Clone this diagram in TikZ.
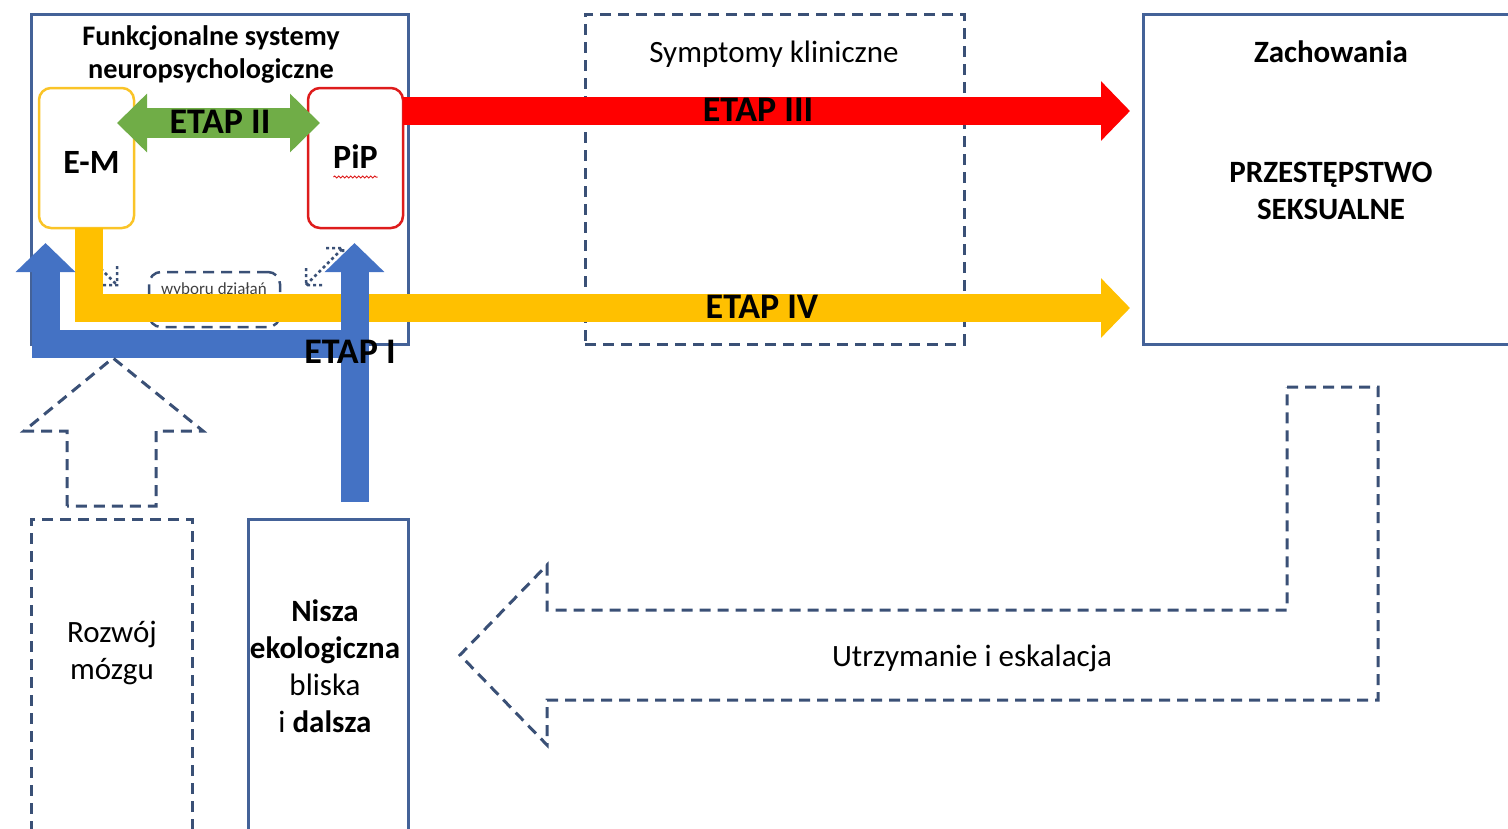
\documentclass[tikz,border=0pt]{standalone}
\usepackage{fontspec}
\setmainfont{Carlito}
\usetikzlibrary{positioning, arrows.meta, decorations.pathmorphing}

\definecolor{frameblue}{RGB}{68,98,152}
\definecolor{dashblue}{RGB}{58,80,118}
\definecolor{emgold}{RGB}{250,196,40}
\definecolor{pipred}{RGB}{222,28,28}
\definecolor{etapgreen}{RGB}{112,173,71}
\definecolor{etapred}{RGB}{255,0,0}
\definecolor{etapyellow}{RGB}{255,192,0}
\definecolor{etapblue}{RGB}{68,114,196}

\tikzset{
  >={Triangle[width=58pt, length=29pt]}, % heads of the block arrows
  solidframe/.style={draw=frameblue, line width=3pt, inner sep=0pt, outer sep=0pt}, % solid boxes
  dashframe/.style={draw=dashblue, line width=3pt, dash pattern=on 11pt off 7pt, inner sep=0pt, outer sep=0pt}, % dashed boxes and outline arrows
  dotarrow/.style={draw=dashblue, line width=2.5pt, dash pattern=on 3pt off 3pt}, % small dotted icons
  module/.style={rounded corners=12pt, line width=2.5pt, minimum width=95pt, minimum height=140pt, inner sep=0pt, outer sep=0pt}, % E-M and PiP
  moduletext/.style={inner sep=0pt, font=\fontsize{34}{40}\selectfont\bfseries},
  plaintext/.style={align=center, inner sep=0pt, font=\fontsize{31}{37}\selectfont},
  boldtext/.style={align=center, inner sep=0pt, font=\fontsize{31}{37}\selectfont\bfseries},
  etap/.style={inner sep=0pt, font=\fontsize{36}{40}\selectfont\bfseries}, % stage names
  shaft/.style={line width=28pt}, % body of a block arrow
}

\begin{document}
\begin{tikzpicture}[x=1pt, y=-1pt]
  \useasboundingbox (0,0) rectangle (1508,828);

  % frames
  \node[solidframe, minimum width=377pt, minimum height=330pt, anchor=north west] (fsn) at (31,14) {};
  \node[dashframe, minimum width=379pt, minimum height=330pt, right=177pt of fsn] (sympt) {};
  \node[solidframe, minimum width=400pt, minimum height=330pt, right=179pt of sympt] (zach) {};
  \node[dashframe, minimum width=161pt, minimum height=330pt, anchor=north west] (rozw) at (31,519) {};
  \node[solidframe, minimum width=160pt, minimum height=330pt, right=56pt of rozw] (nisza) {};

  \node[boldtext, font=\fontsize{28.3}{33}\selectfont\bfseries] (fsntitle) at (211,54) {Funkcjonalne systemy\\neuropsychologiczne};
  \node[plaintext] (symptext) at (774,54) {Symptomy kliniczne};
  \node[boldtext] (zachtext) at (1331,52) {Zachowania};
  \node[boldtext] (przest) at (1331,191) {PRZESTĘPSTWO\\SEKSUALNE};
  \node[plaintext] (rozwtext) at (112,653) {Rozwój\\mózgu};
  \node[plaintext] (niszatext) at (325,666) {\textbf{Nisza}\\\textbf{ekologiczna}\\bliska\\i \textbf{dalsza}};

  % inner part of the left frame
  \node[dashframe, line width=2.5pt, rounded corners=12pt, minimum width=131pt, minimum height=55pt, anchor=north west] (wybor) at (149,272) {};
  \node[inner sep=0pt, text=black!75, font=\fontsize{17}{20}\selectfont] (wybortext) at (214,290) {wyboru działań};
  \draw[dotarrow] (88,256) -- (117,285) (117,266) -- (117,285) -- (100,285);
  \draw[dotarrow] (306,285) -- (343,248) (306,268) -- (306,285) -- (323,285) (326,248) -- (343,248) -- (343,265);

  \node[module, draw=emgold, below right=74pt and 8pt of fsn.north west] (em) {};
  \node[module, draw=pipred, right=174pt of em] (pip) {};
  \node[moduletext] (emtext) at ([xshift=5pt, yshift=-4pt]em.center) {E-M};
  \node[moduletext] (piptext) at ([yshift=1pt]pip.center) {PiP};
  \draw[pipred, line width=1pt, decorate, decoration={snake, amplitude=1pt, segment length=4pt}]
    ([xshift=-22pt, yshift=-19pt]pip.center) -- ([xshift=22pt, yshift=-19pt]pip.center);

  % block arrows
  \draw[etapgreen, line width=30pt, {Triangle[width=57pt, length=30pt]}-{Triangle[width=57pt, length=30pt]}, shorten <=-17pt, shorten >=-12pt]
    ([yshift=35pt]em.east) -- ([yshift=35pt]pip.west);
  \draw[etapred, shaft, ->, shorten >=13pt] ([yshift=47pt]pip.east) coordinate (redstart) -- (redstart -| zach.west);
  \draw[etapyellow, shaft, ->, shorten >=13pt] ([xshift=2.5pt]em.south) |- ([yshift=-129pt]zach.west);

  \coordinate (bluefork) at (354.5,344);
  \coordinate (bluelefttip) at (45.5,243);
  \draw[etapblue, shaft, ->] (bluefork) -| (bluelefttip);
  \draw[etapblue, shaft, ->, shorten >=15pt] ([xshift=26.5pt, yshift=17pt]nisza.north) coordinate (bluebase) -- (bluebase |- pip.south);

  \node[etap] (etap2) at (220,122) {ETAP II};
  \node[etap] (etap3) at (758,110) {ETAP III};
  \node[etap] (etap4) at (762,307) {ETAP IV};
  \node[etap] (etap1) at (350,352) {ETAP I};

  % outline arrows
  \draw[dashframe] (67,506) -- (67,431) -- (24,431) -- (113,358) -- (203,431) -- (156,431) -- (156,506) -- cycle;
  \draw[dashframe] (1287,387) -- (1378,387) -- (1378,700) -- (547,700) -- (547,745) -- (460,655) -- (547,565) -- (547,610) -- (1287,610) -- cycle;
  \node[plaintext] (utrzym) at (972,658) {Utrzymanie i eskalacja};
\end{tikzpicture}
\end{document}
